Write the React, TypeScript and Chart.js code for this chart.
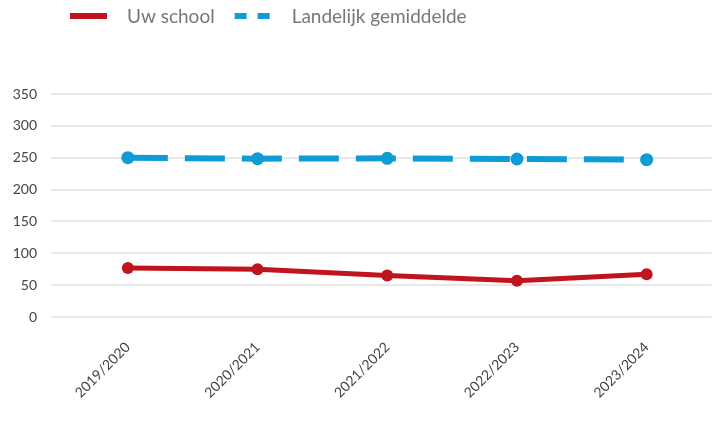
import { useEffect, useRef } from "react";
import { Chart, registerables } from "chart.js";

Chart.register(...registerables);

const categories = ["2019/2020", "2020/2021", "2021/2022", "2022/2023", "2023/2024"];
const schoolValues = [77, 75, 65, 57, 67];
const nationalValues = [250, 248.5, 249, 248, 247];
const yTicks = [0, 50, 100, 150, 200, 250, 300, 350];

const RED = "#c0141f";
const BLUE = "#0e9bd6";

const legendPlugin = {
  id: "customLegend",
  afterDraw(chart: any) {
    const ctx = chart.ctx;
    ctx.save();
    ctx.font = "19px Lato";
    ctx.textBaseline = "middle";
    let x = 70;
    const y = 16;
    chart.data.datasets.forEach((ds: any) => {
      ctx.beginPath();
      ctx.strokeStyle = ds.borderColor;
      ctx.lineWidth = 6;
      ctx.lineCap = "butt";
      ctx.setLineDash(ds.borderDash && ds.borderDash.length ? [12, 11] : []);
      ctx.moveTo(x, y);
      ctx.lineTo(x + 37, y);
      ctx.stroke();
      ctx.setLineDash([]);
      ctx.fillStyle = "#777777";
      ctx.fillText(ds.label, x + 57, y + 1);
      x += 57 + ctx.measureText(ds.label).width + 20;
    });
    ctx.restore();
  },
};

export default function App() {
  const ref = useRef<HTMLCanvasElement | null>(null);
  useEffect(() => {
    document.body.style.margin = "0";
    const chart = new Chart(ref.current as HTMLCanvasElement, {
      type: "line",
      data: {
        labels: categories,
        datasets: [
          {
            label: "Uw school",
            data: schoolValues,
            borderColor: RED,
            backgroundColor: RED,
            borderWidth: 5,
            pointRadius: 6,
            pointBackgroundColor: RED,
            pointBorderWidth: 0,
            tension: 0,
          },
          {
            label: "Landelijk gemiddelde",
            data: nationalValues,
            borderColor: BLUE,
            backgroundColor: BLUE,
            borderWidth: 6,
            borderDash: [40, 17],
            pointRadius: 6.5,
            pointBackgroundColor: BLUE,
            pointBorderWidth: 0,
            tension: 0,
          },
        ],
      },
      options: {
        animation: false,
        responsive: true,
        maintainAspectRatio: false,
        layout: { padding: { top: 94, right: 5, left: 0, bottom: 0 } },
        plugins: {
          legend: { display: false },
          tooltip: { enabled: false },
        },
        scales: {
          x: {
            type: "category",
            offset: true,
            grid: { display: false, drawTicks: false },
            border: { display: false },
            afterFit: (scale: any) => {
              scale.height = 117;
            },
            ticks: {
              color: "#444444",
              font: { family: "Lato", size: 14 },
              maxRotation: 45,
              minRotation: 45,
              padding: 22,
            },
          },
          y: {
            min: 0,
            max: 350,
            afterFit: (scale: any) => {
              scale.width = 63;
            },
            afterBuildTicks: (scale: any) => {
              scale.ticks = yTicks.map((v) => ({ value: v }));
            },
            grid: {
              color: "#e8e8e8",
              lineWidth: 2,
              tickLength: 12,
              drawTicks: true,
              tickColor: "#e8e8e8",
            },
            border: { display: false },
            ticks: {
              color: "#444444",
              font: { family: "Lato", size: 14 },
              padding: 14,
            },
          },
        },
      },
      plugins: [legendPlugin],
    });
    return () => chart.destroy();
  }, []);
  return (
    <div style={{ width: 718, height: 434, position: "relative" }}>
      <canvas ref={ref} />
    </div>
  );
}
